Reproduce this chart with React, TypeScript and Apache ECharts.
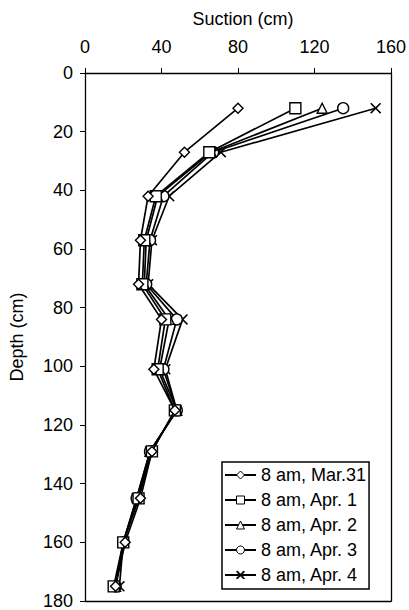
import React, { useEffect, useRef } from "react";
import * as echarts from "echarts";

const depths = [12, 27, 42, 57, 72, 84, 101, 115, 129, 145, 160, 175];
const mar31 = [80, 52, 33, 29, 28, 40, 36, 47, 35, 29, 21, 16];
const apr1 = [110, 65, 37, 31, 30, 42, 38, 47, 35, 28, 20, 15];
const apr2 = [124, 66, 38, 32, 31, 44, 39, 48, 34, 28, 20, 16];
const apr3 = [135, 67, 41, 34, 32, 48, 41, 48, 34, 27, 20, 16];
const apr4 = [152, 71, 44, 35, 33, 51, 42, 48, 34, 27, 20, 18];
const seriesNames = ["8 am, Mar.31", "8 am, Apr. 1", "8 am, Apr. 2", "8 am, Apr. 3", "8 am, Apr. 4"];

const FONT = "Liberation Sans, Arial, sans-serif";
const CROSS = "path://M0,1L1,0L5,4L9,0L10,1L6,5L10,9L9,10L5,6L1,10L0,9L4,5Z";

export default function App() {
  const ref = useRef<HTMLDivElement>(null);
  useEffect(() => {
    if (!ref.current) return;
    const chart = echarts.init(ref.current, null, { renderer: "svg" });
    const all = [mar31, apr1, apr2, apr3, apr4];
    const symbols = ["diamond", "rect", "triangle", "circle", CROSS];
    const sizes = [10, 11, 10, 11, 11];
    const series = all.map((vals, i) => ({
      name: seriesNames[i],
      type: "line",
      data: vals.map((v, j) => [v, depths[j]]),
      symbol: symbols[i],
      symbolSize: sizes[i],
      showAllSymbol: true,
      lineStyle: { color: "#000", width: 1.7 },
      itemStyle: {
        color: i === 4 ? "#000" : "#fff",
        borderColor: "#000",
        borderWidth: i === 4 ? 0 : 1.4,
      },
      z: 10 - i,
    }));
    chart.setOption({
      animation: false,
      backgroundColor: "#fff",
      textStyle: { fontFamily: FONT },
      title: {
        text: "Suction (cm)",
        left: 238,
        top: 5,
        textAlign: "center",
        textStyle: { fontFamily: FONT, fontSize: 18, fontWeight: "normal", color: "#000" },
      },
      grid: { left: 81, top: 73, right: 16, bottom: 7, containLabel: false },
      legend: {
        orient: "vertical",
        left: 222,
        top: 462,
        data: seriesNames,
        itemWidth: 31,
        itemHeight: 10,
        itemGap: 7,
        padding: [4, 3, 5, 2],
        borderColor: "#000",
        borderWidth: 1.5,
        backgroundColor: "#fff",
        itemStyle: { borderWidth: 1 },
        textStyle: { fontFamily: FONT, fontSize: 18, color: "#000" },
      },
      xAxis: [
        {
          type: "value",
          position: "top",
          min: 0,
          max: 160,
          interval: 40,
          axisLine: { show: true, lineStyle: { color: "#000", width: 1.3 } },
          axisTick: { show: true, inside: false, length: 5, lineStyle: { color: "#000" } },
          axisLabel: { fontFamily: FONT, fontSize: 18, color: "#000", margin: 17 },
          splitLine: { show: false },
        },
        {
          type: "value",
          position: "bottom",
          min: 0,
          max: 160,
          axisLine: { show: true, onZero: false, lineStyle: { color: "#000", width: 1.3 } },
          axisTick: { show: false },
          axisLabel: { show: false },
          splitLine: { show: false },
        },
      ],
      yAxis: [
        {
          type: "value",
          inverse: true,
          min: 0,
          max: 180,
          interval: 20,
          name: "Depth (cm)",
          nameLocation: "middle",
          nameGap: 59,
          nameTextStyle: { fontFamily: FONT, fontSize: 18, color: "#000" },
          axisLine: { show: true, onZero: false, lineStyle: { color: "#000", width: 1.3 } },
          axisTick: { show: true, inside: false, length: 5, lineStyle: { color: "#000" } },
          axisLabel: { fontFamily: FONT, fontSize: 18, color: "#000", margin: 12 },
          splitLine: { show: false },
        },
        {
          type: "value",
          inverse: true,
          position: "right",
          min: 0,
          max: 180,
          axisLine: { show: true, onZero: false, lineStyle: { color: "#000", width: 1.3 } },
          axisTick: { show: false },
          axisLabel: { show: false },
          splitLine: { show: false },
        },
      ],
      series,
    });
    return () => chart.dispose();
  }, []);
  return (
    <div
      ref={ref}
      style={{ position: "fixed", left: 0, top: 0, width: 409, height: 610 }}
    />
  );
}
